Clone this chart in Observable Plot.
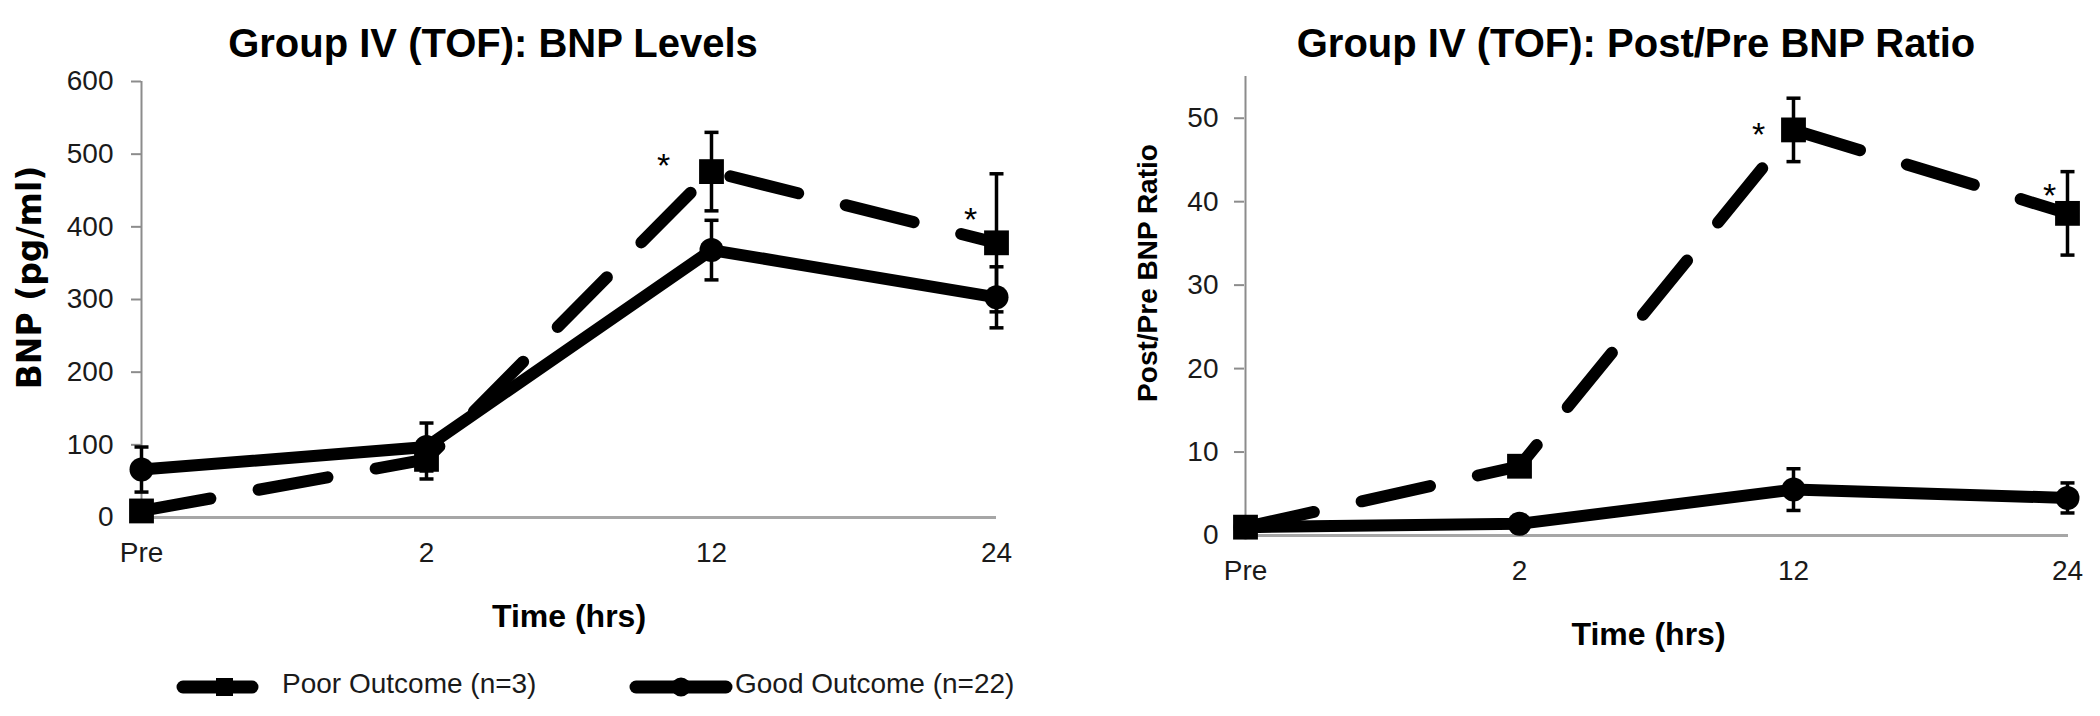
<!DOCTYPE html>
<html>
<head>
<meta charset="utf-8">
<script src="https://cdn.jsdelivr.net/npm/d3@7"></script>
<script src="https://cdn.jsdelivr.net/npm/@observablehq/plot@0.6"></script>
<style>
html, body { margin: 0; padding: 0; background: #fff; }
#wrap { position: relative; width: 2100px; height: 716px; overflow: hidden; background: #fff; font-family: "Liberation Sans", Arial, sans-serif; }
#wrap > svg { position: absolute; }
</style>
</head>
<body>
<div id="wrap"></div>
<script>
// ---------- data ----------
const times = ["Pre", "2", "12", "24"];

const bnpPoor = [9, 80, 476, 378];
const bnpPoorErr = [8, 27, 54, 95];
const bnpGood = [66, 97, 368, 303];
const bnpGoodErr = [31, 33, 41, 42];
const bnpTicks = [0, 100, 200, 300, 400, 500, 600];
const bnpStarTimes = ["12", "24"];
const bnpStarValues = [495, 420];

const ratioPoor = [1, 8.3, 48.6, 38.6];
const ratioPoorErr = [0.3, 1.2, 3.8, 5.0];
const ratioGood = [1, 1.4, 5.5, 4.5];
const ratioGoodErr = [0.2, 1.0, 2.5, 1.8];
const ratioTicks = [0, 10, 20, 30, 40, 50];
const ratioStarTimes = ["12", "24"];
const ratioStarValues = [48.9, 41.6];

const titles = ["Group IV (TOF): BNP Levels", "Group IV (TOF): Post/Pre BNP Ratio"];
const yLabels = ["BNP (pg/ml)", "Post/Pre BNP Ratio"];
const xLabel = "Time (hrs)";
const seriesNames = ["Poor Outcome (n=3)", "Good Outcome (n=22)"];

// ---------- helpers ----------
const FONT = '"Liberation Sans", Arial, sans-serif';
const cap = { draw(ctx, size) { const w = Math.sqrt(size / Math.PI); ctx.moveTo(-w, 0); ctx.lineTo(w, 0); } };

function rows(vals, errs) {
  return times.map((t, i) => ({ time: t, value: vals[i], lo: vals[i] - errs[i], hi: vals[i] + errs[i] }));
}

function errMarks(d) {
  return [
    Plot.ruleX(d, { x: "time", y1: "lo", y2: "hi", stroke: "#000", strokeWidth: 3.5 }),
    Plot.dot(d, { x: "time", y: "lo", symbol: cap, r: 7, fill: "none", stroke: "#000", strokeWidth: 3.5 }),
    Plot.dot(d, { x: "time", y: "hi", symbol: cap, r: 7, fill: "none", stroke: "#000", strokeWidth: 3.5 })
  ];
}

function makeChart(o) {
  const poor = rows(o.poor, o.poorErr);
  const good = rows(o.good, o.goodErr);
  const stars = o.starTimes.map((t, i) =>
    Plot.text([{ time: t, value: o.starValues[i] }], {
      x: "time", y: "value", text: () => "*", dx: o.starDx[i], dy: 8,
      fontSize: 34, fill: "#000", textAnchor: "middle", lineAnchor: "middle"
    })
  );
  const svg = Plot.plot({
    width: o.width, height: o.height,
    marginLeft: o.mL, marginRight: o.mR, marginTop: o.mT, marginBottom: o.mB,
    style: { fontFamily: FONT, fontSize: "28px", color: "#1a1a1a", background: "transparent", overflow: "visible" },
    x: { type: "point", domain: times, padding: 0, label: null, tickSize: 0, tickPadding: 25 },
    y: { domain: o.yDomain, ticks: o.yTicks, label: null, tickSize: 10, tickPadding: o.tickPad },
    marks: [
      Plot.ruleY([0], { stroke: "#a6a6a6", strokeWidth: 3 }),
      Plot.ruleX(["Pre"], { stroke: "#8c8c8c", strokeWidth: 2 }),
      ...errMarks(poor),
      Plot.line(poor, { x: "time", y: "value", stroke: "#000", strokeWidth: 12, strokeDasharray: "70 49", strokeLinecap: "round", strokeLinejoin: "round" }),
      Plot.dot(poor, { x: "time", y: "value", symbol: "square", r: 14, fill: "#000" }),
      ...errMarks(good),
      Plot.line(good, { x: "time", y: "value", stroke: "#000", strokeWidth: 12, strokeLinecap: "round", strokeLinejoin: "round" }),
      Plot.dot(good, { x: "time", y: "value", symbol: "circle", r: 12, fill: "#000" }),
      ...stars,
      Plot.text([xLabel], { frameAnchor: "bottom", dx: o.xLabDx, dy: 99, fontSize: 32, fontWeight: "bold", fill: "#000", textAnchor: "middle", lineAnchor: "middle" }),
      Plot.text([o.yLabel], { frameAnchor: "left", rotate: -90, dx: o.yLabDx, dy: o.yLabDy, fontSize: o.yLabSize, fontFamily: o.yLabFont, fontWeight: "bold", fill: "#000", textAnchor: "middle", lineAnchor: "middle" })
    ]
  });
  const s = d3.select(svg);
  s.selectAll('[aria-label="y-axis tick"] path, [aria-label="y-axis"] line, [aria-label="y-axis"] path')
    .attr("stroke", "#8c8c8c").attr("stroke-width", 2);
  s.style("left", o.left + "px").style("top", o.top + "px");
  return svg;
}

const wrap = document.getElementById("wrap");

wrap.appendChild(makeChart({
  left: 0, top: 70, width: 1050, height: 580,
  mL: 141, mR: 54, mT: 11, mB: 133,
  yDomain: [0, 600], yTicks: bnpTicks, tickPad: 18,
  poor: bnpPoor, poorErr: bnpPoorErr, good: bnpGood, goodErr: bnpGoodErr,
  starTimes: bnpStarTimes, starValues: bnpStarValues, starDx: [-48, -26],
  xLabDx: 0,
  yLabel: yLabels[0], yLabDx: -111, yLabDy: -22, yLabSize: 33, yLabFont: '"DejaVu Sans", Verdana, sans-serif'
}));

wrap.appendChild(makeChart({
  left: 1050, top: 70, width: 1050, height: 600,
  mL: 194, mR: 32, mT: 6, mB: 135,
  yDomain: [0, 55], yTicks: ratioTicks, tickPad: 16,
  poor: ratioPoor, poorErr: ratioPoorErr, good: ratioGood, goodErr: ratioGoodErr,
  starTimes: ratioStarTimes, starValues: ratioStarValues, starDx: [-35, -18],
  xLabDx: -8,
  yLabel: yLabels[1], yLabDx: -96, yLabDy: -33, yLabSize: 28, yLabFont: FONT
}));

// ---------- titles and legend ----------
const ov = d3.select(wrap).append("svg")
  .attr("width", 2100).attr("height", 716)
  .style("left", "0px").style("top", "0px")
  .style("font-family", FONT);

ov.append("text").attr("x", 493).attr("y", 57).attr("text-anchor", "middle")
  .attr("font-size", 40).attr("font-weight", "bold").attr("fill", "#000").text(titles[0]);
ov.append("text").attr("x", 1636).attr("y", 57).attr("text-anchor", "middle")
  .attr("font-size", 40).attr("font-weight", "bold").attr("fill", "#000").text(titles[1]);

const lg = ov.append("g");
lg.append("line").attr("x1", 183).attr("x2", 252).attr("y1", 687).attr("y2", 687)
  .attr("stroke", "#000").attr("stroke-width", 13).attr("stroke-linecap", "round");
lg.append("rect").attr("x", 216).attr("y", 678).attr("width", 17).attr("height", 18).attr("fill", "#000");
lg.append("text").attr("x", 282).attr("y", 693).attr("font-size", 28).attr("fill", "#1a1a1a").text(seriesNames[0]);

lg.append("line").attr("x1", 636).attr("x2", 726).attr("y1", 687).attr("y2", 687)
  .attr("stroke", "#000").attr("stroke-width", 13).attr("stroke-linecap", "round");
lg.append("circle").attr("cx", 681).attr("cy", 687).attr("r", 9.5).attr("fill", "#000");
lg.append("text").attr("x", 735).attr("y", 693).attr("font-size", 28).attr("fill", "#1a1a1a").text(seriesNames[1]);
</script>
</body>
</html>
